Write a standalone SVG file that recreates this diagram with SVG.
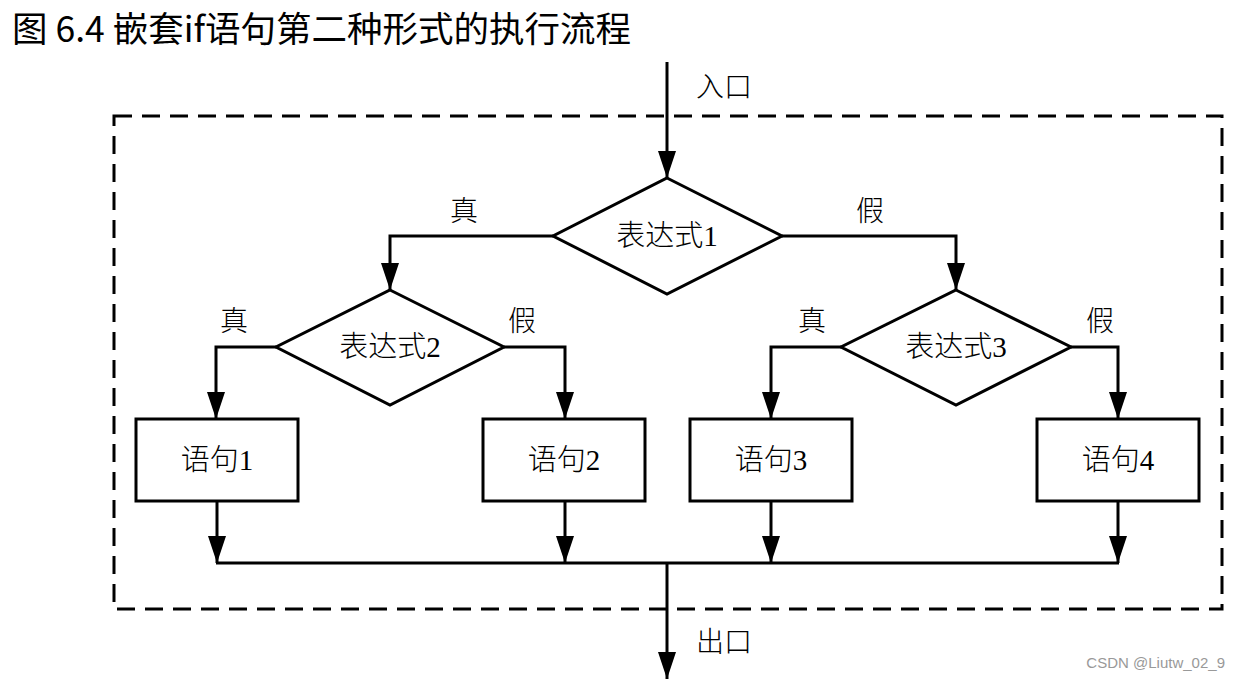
<svg xmlns="http://www.w3.org/2000/svg" width="1239" height="686" viewBox="0 0 1239 686">
<style>
.t{font-family:"Liberation Serif","Noto Sans CJK SC",serif;font-size:29px;font-weight:300;fill:#000;text-anchor:middle;dominant-baseline:central}
.lbl{font-family:"Liberation Serif","Noto Sans CJK SC",serif;font-size:28px;font-weight:300;fill:#000;text-anchor:middle;dominant-baseline:central}
.shape{fill:#fff;stroke:#000;stroke-width:3}
.ln{fill:none;stroke:#000;stroke-width:3}
.arr{fill:none;stroke:#000;stroke-width:3;marker-end:url(#ah)}
</style>
<defs>
<marker id="ah" markerUnits="userSpaceOnUse" markerWidth="28" markerHeight="18" refX="27" refY="9" orient="auto">
<path d="M0,0 L27,9 L0,18 z" fill="#000"/>
</marker>
</defs>
<rect width="1239" height="686" fill="#fff"/>
<text x="12" y="42" font-family="'Noto Sans CJK SC',sans-serif" font-size="35.5" font-weight="400" fill="#000">图 6.4 嵌套if语句第二种形式的执行流程</text>
<rect id="frame" x="114" y="116" width="1108" height="493" fill="none" stroke="#000" stroke-width="3" stroke-dasharray="18,10"/>
<g id="connectors">
<line class="arr" x1="667" y1="62" x2="667" y2="178"/>
<polyline class="arr" points="553,236 390,236 390,290"/>
<polyline class="arr" points="782,236 956,236 956,290"/>
<polyline class="arr" points="276,347 216,347 216,419"/>
<polyline class="arr" points="504,347 565,347 565,419"/>
<polyline class="arr" points="841,347 771,347 771,419"/>
<polyline class="arr" points="1071,347 1118,347 1118,419"/>
<line class="arr" x1="217" y1="501" x2="217" y2="563"/>
<line class="arr" x1="565" y1="501" x2="565" y2="563"/>
<line class="arr" x1="771" y1="501" x2="771" y2="563"/>
<line class="arr" x1="1118" y1="501" x2="1118" y2="563"/>
<line class="ln" x1="216" y1="563" x2="1119" y2="563"/>
<line class="arr" x1="667" y1="563" x2="667" y2="679"/>
<text class="lbl" x="724" y="87">入口</text>
<text class="lbl" x="724" y="642">出口</text>
<text class="lbl" x="464" y="211">真</text>
<text class="lbl" x="870" y="211">假</text>
<text class="lbl" x="234" y="321">真</text>
<text class="lbl" x="522" y="321">假</text>
<text class="lbl" x="812" y="321">真</text>
<text class="lbl" x="1100" y="321">假</text>
</g>
<g id="d1"><polygon class="shape" points="667,178 782,236 667,294 553,236"/><text class="t" x="667" y="236">表达式1</text></g>
<g id="d2"><polygon class="shape" points="390,290 504,347 390,405 276,347"/><text class="t" x="390" y="347">表达式2</text></g>
<g id="d3"><polygon class="shape" points="956,290 1071,347 956,405 841,347"/><text class="t" x="956" y="347">表达式3</text></g>
<g id="s1"><rect class="shape" x="136" y="419" width="162" height="82"/><text class="t" x="217" y="460">语句1</text></g>
<g id="s2"><rect class="shape" x="483" y="419" width="162" height="82"/><text class="t" x="564" y="460">语句2</text></g>
<g id="s3"><rect class="shape" x="690" y="419" width="162" height="82"/><text class="t" x="771" y="460">语句3</text></g>
<g id="s4"><rect class="shape" x="1037" y="419" width="162" height="82"/><text class="t" x="1118" y="460">语句4</text></g>
<text x="1225" y="668" font-family="'Liberation Sans',sans-serif" font-size="15" fill="#999" text-anchor="end">CSDN @Liutw_02_9</text>
</svg>
